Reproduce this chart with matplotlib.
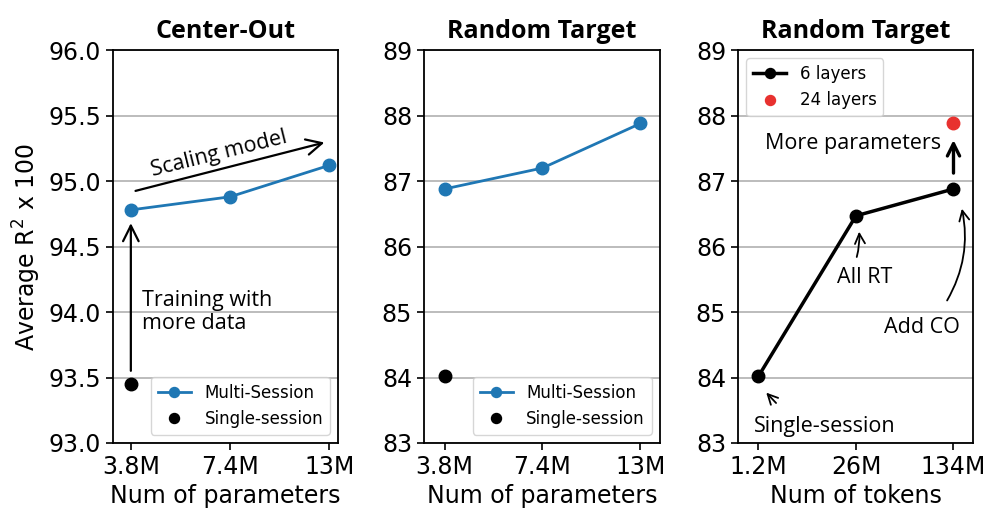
import numpy as np
import matplotlib
matplotlib.use('Agg')
from matplotlib import pyplot as plt

plt.rcParams['font.family'] = ['DejaVu Sans']

# data
param_labels = ['3.8M', '7.4M', '13M']
token_labels = ['1.2M', '26M', '134M']
co_multi = [94.78, 94.88, 95.12]
co_single = [93.45]
rt_multi = [86.88, 87.2, 87.88]
rt_single = [84.02]
tok_6 = [84.02, 86.47, 86.88]
tok_24 = [87.88]

blue = '#1f77b4'
red = '#e8312f'
ann_font = 'Open Sans'
fs = 17
afs = 15.5

fig = plt.figure(figsize=(10, 5.28), dpi=100)
ax1 = fig.add_axes([0.113, 0.161, 0.225, 0.744])
ax2 = fig.add_axes([0.424, 0.161, 0.236, 0.744])
ax3 = fig.add_axes([0.738, 0.161, 0.235, 0.744])

x = np.arange(3)

for ax in (ax1, ax2, ax3):
    ax.grid(axis='y', color='#b0b0b0', lw=1.2)
    ax.set_axisbelow(True)
    ax.tick_params(labelsize=fs, length=5, width=1.2)
    ax.set_xticks(x)
    for s in ax.spines.values():
        s.set_linewidth(1.3)

# panel 1
ax1.plot(x, co_multi, '-o', color=blue, lw=2, ms=9, label='Multi-Session')
ax1.plot(x[:1], co_single, 'o', color='black', ms=9, label='Single-session')
ax1.set_xticklabels(param_labels)
ax1.set_xlim(-0.18, 2.09)
ax1.set_ylim(93, 96)
ax1.set_yticks([93.0, 93.5, 94.0, 94.5, 95.0, 95.5, 96.0])
ax1.set_yticklabels(['93.0', '93.5', '94.0', '94.5', '95.0', '95.5', '96.0'])
ax1.set_xlabel('Num of parameters', fontsize=fs)
ax1.set_ylabel('Average R$^2$ x 100', fontsize=fs)
ax1.set_title('Center-Out', fontsize=18, fontweight='bold', family=ann_font, pad=9)
ax1.legend(loc='lower right', fontsize=12, markerscale=0.8)
ax1.annotate('', xy=(1.98, 95.3), xytext=(0.02, 94.92),
             arrowprops=dict(arrowstyle='->', lw=1.6, color='black', mutation_scale=28))
ax1.text(0.89, 95.21, 'Scaling model', rotation=14, ha='center', va='center',
         fontsize=afs, family=ann_font)
ax1.annotate('', xy=(0, 94.7), xytext=(0, 93.53),
             arrowprops=dict(arrowstyle='->', lw=1.6, color='black', mutation_scale=28))
ax1.text(0.11, 94.0, 'Training with\nmore data', ha='left', va='center',
         fontsize=afs, family=ann_font, linespacing=1.1)

# panel 2
ax2.plot(x, rt_multi, '-o', color=blue, lw=2, ms=9, label='Multi-Session')
ax2.plot(x[:1], rt_single, 'o', color='black', ms=9, label='Single-session')
ax2.set_xticklabels(param_labels)
ax2.set_xlim(-0.21, 2.2)
ax2.set_ylim(83, 89)
ax2.set_yticks(range(83, 90))
ax2.set_xlabel('Num of parameters', fontsize=fs)
ax2.set_title('Random Target', fontsize=18, fontweight='bold', family=ann_font, pad=9)
ax2.legend(loc='lower right', fontsize=12, markerscale=0.8)

# panel 3
ax3.plot(x, tok_6, '-o', color='black', lw=2.5, ms=9, label='6 layers')
ax3.plot(x[2:], tok_24, 'o', color=red, ms=9, label='24 layers')
ax3.set_xticklabels(token_labels)
ax3.set_xlim(-0.21, 2.2)
ax3.set_ylim(83, 89)
ax3.set_yticks(range(83, 90))
ax3.set_xlabel('Num of tokens', fontsize=fs)
ax3.set_title('Random Target', fontsize=18, fontweight='bold', family=ann_font, pad=9)
ax3.legend(loc='upper left', fontsize=12, markerscale=0.8)
ax3.annotate('', xy=(2, 87.67), xytext=(2, 87.08),
             arrowprops=dict(arrowstyle='->', lw=2.4, color='black', mutation_scale=22))
ax3.text(1.87, 87.58, 'More parameters', ha='right', va='center', fontsize=afs, family=ann_font)
ax3.annotate('', xy=(1.03, 86.27), xytext=(1.0, 85.8),
             arrowprops=dict(arrowstyle='->', lw=1.3, color='black', mutation_scale=18,
                             connectionstyle='arc3,rad=0.1'))
ax3.text(1.09, 85.53, 'All RT', ha='center', va='center', fontsize=afs, family=ann_font)
ax3.annotate('', xy=(2.08, 86.62), xytext=(1.92, 85.14),
             arrowprops=dict(arrowstyle='->', lw=1.3, color='black', mutation_scale=18,
                             connectionstyle='arc3,rad=0.2'))
ax3.text(1.68, 84.77, 'Add CO', ha='center', va='center', fontsize=afs, family=ann_font)
ax3.annotate('', xy=(0.06, 83.8), xytext=(0.2, 83.58),
             arrowprops=dict(arrowstyle='->', lw=1.3, color='black', mutation_scale=18))
ax3.text(0.68, 83.25, 'Single-session', ha='center', va='center', fontsize=afs, family=ann_font)

fig.savefig('out.png', dpi=100)
